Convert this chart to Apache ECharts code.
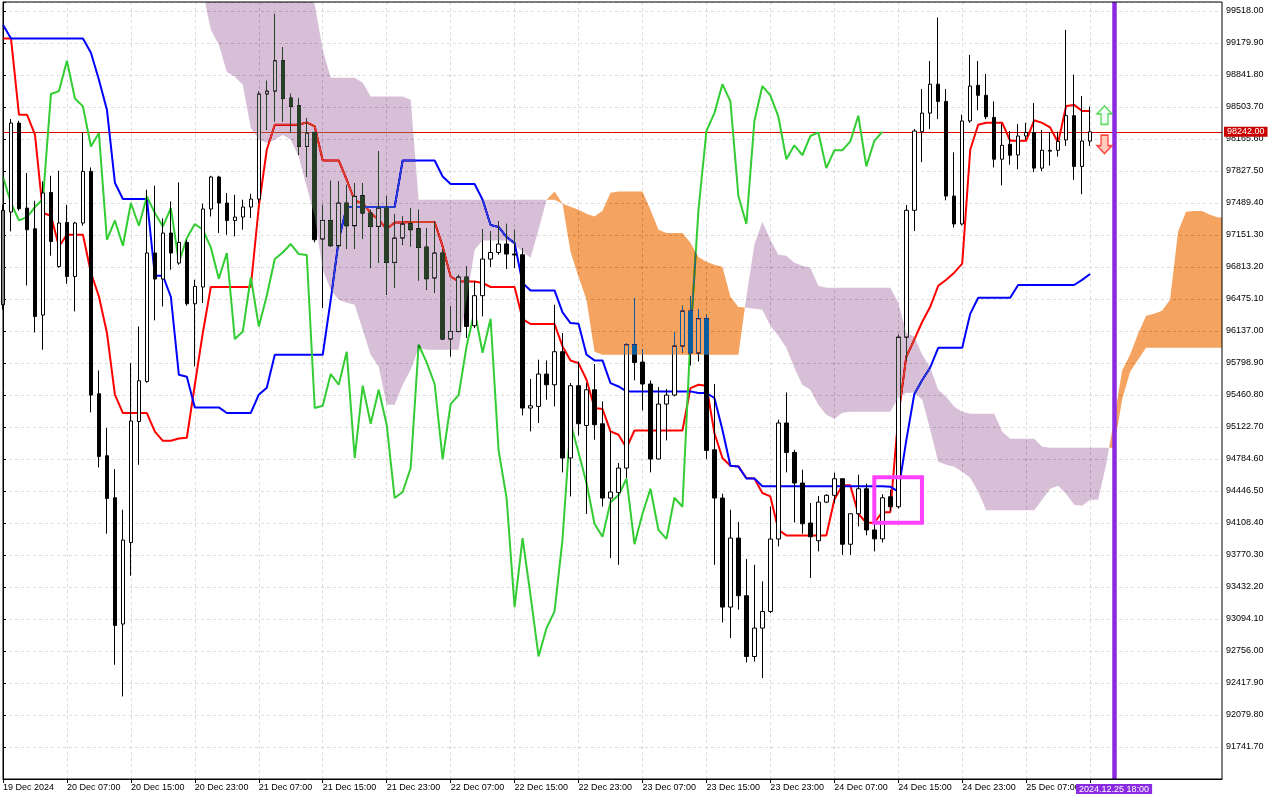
<!DOCTYPE html>
<html>
<head>
<meta charset="utf-8">
<script src="https://cdn.jsdelivr.net/npm/echarts@6/dist/echarts.min.js"></script>
<style>
html,body{margin:0;padding:0;background:#fff;}
#c{width:1280px;height:800px;}
</style>
</head>
<body>
<div id="c"></div>
<script>
// ---------- DATA (hourly BTC candles, index 0 = 19 Dec 2024 23:00) ----------
const tickLabels = ['19 Dec 2024','20 Dec 07:00','20 Dec 15:00','20 Dec 23:00','21 Dec 07:00','21 Dec 15:00',
  '21 Dec 23:00','22 Dec 07:00','22 Dec 15:00','22 Dec 23:00','23 Dec 07:00','23 Dec 15:00','23 Dec 23:00',
  '24 Dec 07:00','24 Dec 15:00','24 Dec 23:00','25 Dec 07:00','25 Dec 15:00'];

const opens = [
  96414,97394,98334,97436,97217,96306,97601,96819,97284,96713,
  97278,97823,95474,94819,94375,93041,93903,95181,95604,96961,
  96686,97172,96855,97073,96425,96602,97426,97764,97489,97305,
  97341,97447,97531,98641,98672,98992,98599,98517,98087,98235,
  97109,97305,97038,97489,97249,97566,97383,97242,97436,96861,
  97119,97270,97217,97024,96697,96961,96052,96132,96707,96193,
  96510,96897,96967,97056,96950,96943,95323,95340,95682,95569,
  95918,94795,95559,95139,95516,95157,94372,94431,94689,95992,
  95809,95577,94784,95365,95460,95978,96348,95904,96267,94882,
  94372,93220,93949,93340,92698,92998,93174,93939,95165,94854,
  94531,94108,93921,94329,94401,94576,93884,94206,94470,94035,
  93941,94386,94280,96072,97412,98243,98439,98745,98563,97563,
  97268,98356,98733,98627,98394,97952,98110,97997,98197,98235,
  97858,98037,98046,98156,98412,97876,98144];
const closes = [
  97411,98334,97429,97207,96291,97595,97083,97278,96713,97278,
  97823,95460,94812,94368,93026,93928,95186,95611,96961,96686,
  97172,96961,97073,96425,96608,97426,97764,97489,97305,97341,
  97447,97531,98641,98672,98992,98594,98510,98087,98229,97101,
  97305,97038,97489,97249,97559,97383,97242,97436,96861,97119,
  97267,97207,97020,96689,96961,96052,96132,96707,96185,96510,
  96897,96967,97056,96950,96940,95323,95347,95682,95569,95918,
  94795,95559,95157,95516,95147,94372,94436,94689,95992,95805,
  95577,94784,95365,95460,95978,96348,95907,96267,94875,94372,
  93220,93949,93340,92698,92998,93174,93939,95165,94854,94531,
  94100,93963,94329,94401,94576,93884,94206,94470,94035,93941,
  94375,94280,96072,97412,98250,98439,98745,98563,97563,97268,
  98356,98725,98627,98401,97952,98099,97994,98197,98235,97858,
  98046,98046,98140,98412,97876,98144,98242];
const lows = [
  96362,97189,97408,96618,96122,95939,96932,96805,96636,96344,
  97249,95277,94695,93995,92611,92276,93551,94724,95590,96249,
  96396,96784,96837,96404,95763,96432,97347,97172,97154,97136,
  97207,97331,97489,98263,98351,98351,98229,97999,97764,97073,
  96380,97030,97017,97003,97003,97109,96802,96855,96520,96591,
  97048,97030,96671,96573,96538,96045,95868,96122,96063,96168,
  96291,96813,96943,96792,96802,95245,95076,95165,95411,95340,
  94643,94389,95034,94203,94988,94283,93738,93667,94584,95615,
  95298,94643,94784,94981,95446,95910,95773,95815,94784,93667,
  93058,92893,93192,92635,92645,92470,93157,93861,94643,94114,
  93995,93527,93808,94318,94318,93771,93771,94072,93978,93808,
  93903,94235,94261,95827,97193,97921,98272,98375,97518,97231,
  97253,98336,98469,98375,97865,97676,97894,97846,98158,97816,
  97827,97884,97979,98092,97733,97582,98092];
const highs = [
  97471,98377,98358,97806,97513,97717,97777,97830,97471,97291,
  98235,97865,95720,95112,94678,94248,95798,96185,97629,97672,
  97326,97506,97707,97101,96679,97482,97777,97777,97595,97577,
  97524,97587,98668,98781,99489,99137,98644,98599,98387,98242,
  97471,97725,97717,97682,97700,97700,97418,98034,97559,97373,
  97347,97436,97418,97225,97295,96996,96396,96731,96819,96661,
  97214,97189,97295,97270,97207,97014,95630,95834,95826,96415,
  96116,95587,95816,95587,95788,95393,95076,94742,96010,96486,
  95946,95615,95545,95524,96126,96404,96502,96369,96309,95577,
  94418,94248,94119,93727,93667,93491,94283,95199,95488,94882,
  94671,94319,94393,94412,94640,94576,94213,94619,94525,94129,
  94412,94461,96098,97469,98272,98695,98990,99450,98695,98024,
  98423,99054,98990,98853,98563,98325,98250,98325,98337,98545,
  98262,98235,98242,99318,98846,98620,98507];

// Tenkan-sen (red) and Kijun-sen (blue), read per candle
const tenkan = [
  99228,99228,98422,98422,98211,97384,97355,97031,97154,97154,
  97154,96753,96502,96119,95464,95270,95270,95270,95270,95073,
  94977,94977,95002,95009,95569,96119,96602,96602,96602,96602,
  96602,96602,97450,98052,98316,98316,98316,98316,98341,98298,
  97939,97939,97939,97735,97513,97489,97384,97313,97214,97284,
  97284,97288,97288,97288,97288,97031,96713,96661,96661,96661,
  96644,96602,96602,96602,96602,96263,96211,96211,96211,96211,
  95974,95826,95798,95622,95323,95313,95076,95041,94901,95086,
  95086,95086,95086,95086,95086,95086,95534,95569,95559,95059,
  94795,94713,94706,94584,94579,94425,94389,94037,93977,93977,
  93977,93977,93977,93977,94354,94506,94506,94206,94111,94111,
  94223,94223,95230,95865,96045,96235,96393,96615,96679,96753,
  96848,98052,98316,98337,98337,98337,98147,98147,98147,98363,
  98336,98288,98129,98514,98526,98461,98461];
const kijun = [
  99373,99228,99228,99228,99228,99228,99228,99228,99228,99228,
  99228,99077,98792,98475,97704,97532,97532,97532,97532,96721,
  96721,96499,95675,95654,95330,95330,95330,95330,95271,95271,
  95271,95271,95464,95537,95886,95886,95886,95886,95886,95886,
  95886,96467,97101,97447,97447,97447,97447,97447,97447,97447,
  97939,97939,97939,97939,97939,97770,97690,97690,97690,97690,
  97524,97257,97236,97130,97067,96644,96566,96566,96566,96566,
  96333,96221,96214,95886,95826,95826,95587,95551,95499,95499,
  95499,95499,95499,95499,95499,95499,95499,95482,95482,95429,
  95094,94713,94706,94579,94579,94497,94497,94497,94497,94497,
  94497,94497,94497,94497,94497,94497,94497,94497,94497,94497,
  94497,94492,94439,94978,95469,95620,95752,95960,95960,95960,
  95960,96318,96489,96489,96489,96489,96489,96623,96623,96623,
  96623,96623,96623,96623,96623,96677,96740];

// Senkou span A / B (cloud), first value belongs to candle index cloudStart
const cloudStart = 24;
const spanA = [
  99954,99722,99320,99162,98876,98823,98739,98285,98158,98126,
  98158,98211,98158,97978,97661,97344,96784,96573,96467,96436,
  96415,96150,95886,95759,95358,95358,95569,95728,95960,95939,
  95939,95939,95939,95939,96467,96996,97094,97094,97094,97094,
  97048,96974,96911,97207,97524,97612,97482,97450,97418,97376,
  97347,97408,97598,97612,97612,97612,97612,97418,97207,97172,
  97172,97172,97070,96918,96869,96837,96816,96499,96390,96383,
  96372,96362,96193,96087,95960,95749,95569,95516,95358,95252,
  95210,95273,95284,95284,95284,95284,95284,95284,95432,95485,
  95485,95411,95094,94756,94724,94703,94650,94587,94439,94242,
  94242,94242,94242,94242,94242,94242,94354,94470,94502,94417,
  94301,94291,94354,94354,94724,95199,95717,95886,96108,96298,
  96319,96351,96467,97186,97397,97404,97404,97365,97337,97337];
const spanB = [
  100271,100218,100165,100060,100060,100060,100060,100060,100060,100060,
  100060,100060,100060,100060,99901,99584,99109,98813,98813,98813,
  98813,98760,98615,98615,98615,98615,98615,98580,97524,97524,
  97524,97524,97524,97524,97524,97524,97524,97524,97524,97524,
  97524,97524,97524,97524,97524,97524,97482,96974,96710,96467,
  95918,95886,95886,95886,95886,95886,95886,95886,95886,95886,
  95886,95886,95886,95886,95886,95886,95886,95886,95886,96499,
  97048,97291,97101,96943,96932,96858,96826,96805,96615,96594,
  96594,96594,96594,96594,96594,96594,96594,96594,96436,96119,
  96076,95886,95749,95516,95442,95337,95284,95263,95263,95263,
  95263,95073,94999,94999,94999,94999,94914,94903,94903,94903,
  94903,94903,94903,94903,94903,94903,95411,95706,95833,95960,
  95960,95960,95960,95960,95960,95960,95960,95960,95960,95960];

const chikouShift = 26;
const lastPrice = 98242.00;
const axisMin = 91403.6, axisMax = 99613.1, axisStep = 338.1;
const xMax = 152.5;
const futureLineIndex = 139;
const futureLineLabel = '2024.12.25 18:00';
const highlightBox = [[109.0, 94591], [114.96, 94112]];
const arrowUp = [137.8, 98417];
const arrowDown = [137.8, 98108];

// ---------- derived series ----------
const candleData = opens.map((o, i) => [i, o, closes[i], lows[i], highs[i]]);
const tenkanData = tenkan.map((v, i) => [i, v]);
const kijunData = kijun.map((v, i) => [i, v]);
const chikouData = closes.slice(chikouShift).map((v, i) => [i, v]);
const tickValues = tickLabels.map((_, i) => i * 8);

// Cloud colours are the inverse of Thistle / SandyBrown, painted with "difference"
const PURPLE_DIFF = 'rgb(39,64,39)';
const ORANGE_DIFF = 'rgb(11,91,159)';

function buildCloud(start, a, b) {
  const runs = [];
  let run = null;
  const push = (s, p0, p1) => {
    if (!run || run.sign !== s) { run = {sign: s, pts: [p0]}; runs.push(run); }
    run.pts.push(p1);
  };
  let last = 1;
  for (let j = 0; j < a.length - 1; j++) {
    const x0 = start + j;
    const d0 = a[j] - b[j], d1 = a[j + 1] - b[j + 1];
    const p0 = {x: x0, a: a[j], b: b[j]}, p1 = {x: x0 + 1, a: a[j + 1], b: b[j + 1]};
    if (d0 * d1 < 0) {
      const t = d0 / (d0 - d1);
      const y = a[j] + t * (a[j + 1] - a[j]);
      const pm = {x: x0 + t, a: y, b: y};
      push(Math.sign(d0), p0, pm);
      push(Math.sign(d1), pm, p1);
      last = Math.sign(d1);
    } else {
      const s = d0 !== 0 ? Math.sign(d0) : (d1 !== 0 ? Math.sign(d1) : last);
      push(s, p0, p1);
      last = s;
    }
  }
  return runs.map(r => ({
    color: r.sign > 0 ? ORANGE_DIFF : PURPLE_DIFF,
    pts: r.pts.map(p => [p.x, p.a]).concat(r.pts.slice().reverse().map(p => [p.x, p.b]))
  }));
}
const cloudPolys = buildCloud(cloudStart, spanA, spanB);

const FONT = 'Liberation Sans';
const FS = 9;
const chart = echarts.init(document.getElementById('c'), null, {renderer: 'canvas'});
chart.setOption({
  animation: false,
  backgroundColor: '#ffffff',
  textStyle: {fontFamily: FONT},
  grid: {left: 2, top: 2, right: 58, bottom: 21, show: true, z: 10, borderColor: '#000', borderWidth: 1,
    backgroundColor: 'rgba(0,0,0,0)', containLabel: false},
  xAxis: {
    type: 'value', min: 0, max: xMax, interval: 4,
    axisLine: {show: true, onZero: false, lineStyle: {color: '#000', width: 1}},
    axisTick: {show: true, length: 4, lineStyle: {color: '#000'}, customValues: tickValues},
    axisLabel: {
      show: true, customValues: tickValues,
      formatter: v => tickLabels[Math.round(v / 8)] || '',
      align: 'left', margin: 4, color: '#000', fontFamily: FONT, fontSize: FS
    },
    splitLine: {show: true, lineStyle: {color: '#dcdcdc', type: [3, 3], width: 1}}
  },
  yAxis: {
    type: 'value', position: 'right', min: axisMin, max: axisMax, interval: axisStep,
    axisLine: {show: true, lineStyle: {color: '#000', width: 1}},
    axisTick: {show: true, length: 3, inside: false, lineStyle: {color: '#000'}},
    axisLabel: {
      formatter: v => (v < 91500 || v > 99600) ? '' : v.toFixed(2),
      margin: 4, color: '#000', fontFamily: FONT, fontSize: FS
    },
    splitLine: {show: true, lineStyle: {color: '#dcdcdc', type: [3, 3], width: 1}}
  },
  series: [
    {
      type: 'candlestick', data: candleData, barWidth: 4, silent: true, z: 2,
      itemStyle: {color: '#ffffff', color0: '#000000', borderColor: '#000000', borderColor0: '#000000', borderWidth: 1},
      markLine: {
        silent: true, z: 2, symbol: ['none', 'none'], animation: false,
        data: [{yAxis: lastPrice}],
        lineStyle: {color: '#e00000', width: 1, type: 'solid'},
        label: {
          show: true, position: 'end', distance: 2, formatter: () => lastPrice.toFixed(2),
          backgroundColor: '#cc0000', color: '#ffffff', padding: [1, 3, 0, 3], fontFamily: FONT, fontSize: FS
        }
      }
    },
    {type: 'line', data: tenkanData, symbol: 'none', silent: true, z: 2, lineStyle: {color: '#ff0000', width: 2}},
    {type: 'line', data: kijunData, symbol: 'none', silent: true, z: 2, lineStyle: {color: '#0000ff', width: 2}},
    {type: 'line', data: chikouData, symbol: 'none', silent: true, z: 2, lineStyle: {color: '#32cd32', width: 2}},
    {
      type: 'custom', silent: true, z: 3, clip: true, blendMode: 'difference',
      data: cloudPolys.map((p, i) => [i]),
      renderItem: (params, api) => {
        const poly = cloudPolys[params.dataIndex];
        return {
          type: 'polygon',
          shape: {points: poly.pts.map(p => api.coord(p))},
          style: {fill: poly.color, stroke: null}
        };
      }
    },
    {
      type: 'scatter', silent: true, z: 5, symbolKeepAspect: false,
      data: [
        {value: arrowUp, symbol: 'path://M7.5,0L15,8L11,8L11,18.5L4,18.5L4,8L0,8Z', symbolSize: [15, 18.5],
          itemStyle: {color: '#eefff6', borderColor: '#3bd23b', borderWidth: 1.5}},
        {value: arrowDown, symbol: 'path://M4,0L11,0L11,10.5L15,10.5L7.5,18.5L0,10.5L4,10.5Z', symbolSize: [15, 18.5],
          itemStyle: {color: '#ffbfae', borderColor: '#ff2020', borderWidth: 1.5}}
      ],
      markLine: {
        silent: true, z: 5, symbol: ['none', 'none'], animation: false,
        data: [{xAxis: futureLineIndex}],
        lineStyle: {color: '#8a2be2', width: 4.5, type: 'solid'},
        label: {
          show: true, position: 'start', distance: 5, formatter: () => futureLineLabel,
          backgroundColor: '#8a2be2', color: '#ffffff', padding: [1, 3, 0, 3], fontFamily: FONT, fontSize: FS
        }
      },
      markArea: {
        silent: true, z: 5,
        itemStyle: {color: 'rgba(0,0,0,0)', borderColor: '#ff40ff', borderWidth: 4},
        data: [[{coord: highlightBox[0]}, {coord: highlightBox[1]}]]
      }
    }
  ]
});
</script>
</body>
</html>
